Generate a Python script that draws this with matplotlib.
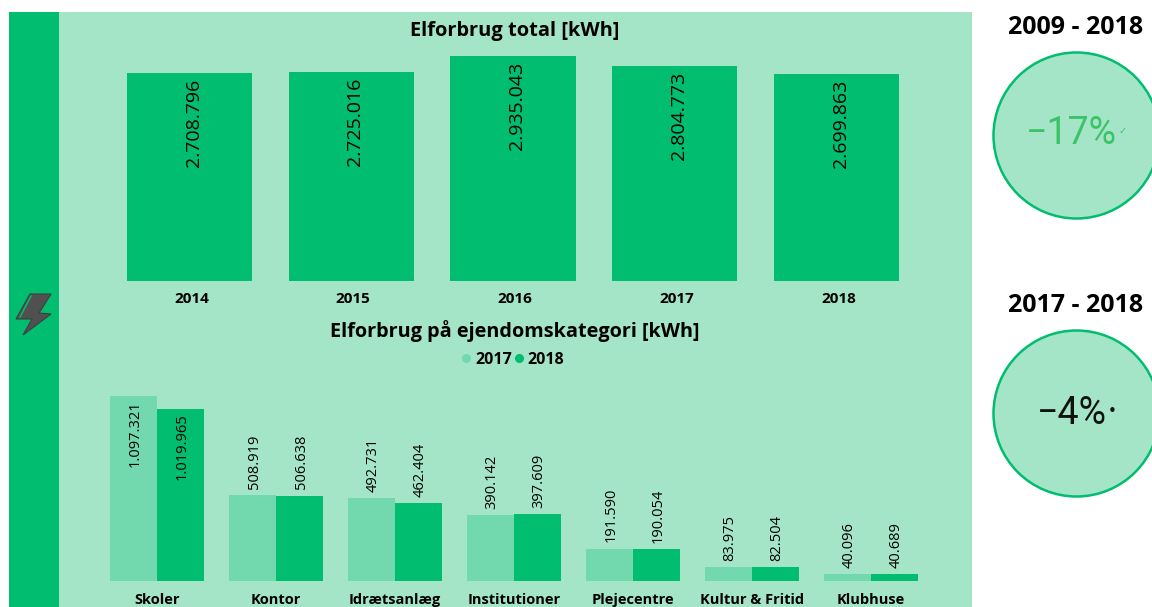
import matplotlib
matplotlib.use('Agg')
import matplotlib.pyplot as plt
from matplotlib.lines import Line2D
from matplotlib.patches import Circle, Polygon, Rectangle
from matplotlib.transforms import ScaledTranslation

years = ['2014', '2015', '2016', '2017', '2018']
total_kwh = [2708796, 2725016, 2935043, 2804773, 2699863]

categories = ['Skoler', 'Kontor', 'Idrætsanlæg', 'Institutioner', 'Plejecentre', 'Kultur & Fritid', 'Klubhuse']
kwh_2017 = [1097321, 508919, 492731, 390142, 191590, 83975, 40096]
kwh_2018 = [1019965, 506638, 462404, 397609, 190054, 82504, 40689]

GREEN = '#00BD6F'
LIGHT = '#72D9AE'
PANEL = '#A5E5C7'
W, H = 1152, 607

plt.rcParams['font.family'] = ['Open Sans', 'DejaVu Sans']


def dotted(v):
    return f'{v:,}'.replace(',', '.')


def px_axes(fig, left, top, right, bottom):
    return fig.add_axes([left / W, 1 - bottom / H, (right - left) / W, (bottom - top) / H])


def clean(ax):
    ax.patch.set_alpha(0)
    for s in ax.spines.values():
        s.set_visible(False)
    ax.set_yticks([])
    ax.tick_params(axis='x', length=0)


fig = plt.figure(figsize=(W / 100, H / 100), dpi=100, facecolor='white')

# background in pixel coordinates
bg = fig.add_axes([0, 0, 1, 1])
bg.set_xlim(0, W)
bg.set_ylim(H, 0)
bg.axis('off')
bg.add_patch(Rectangle((9, 12), 50, H - 12, color=GREEN, lw=0))
bg.add_patch(Rectangle((59, 12), 913, H - 12, color=PANEL, lw=0))

# lightning icon
bg.add_patch(Polygon([(30, 294), (51, 294), (39, 313), (51, 314), (23, 335), (32, 319), (16, 319)],
                     closed=True, fc='#505050', ec='#3f3f3f', lw=0.8))
bg.add_line(Line2D([31, 20], [296, 317], color=GREEN, lw=1.1))

bg.text(515, 31, 'Elforbrug total [kWh]', ha='center', va='center', fontsize=14.4, fontweight='bold')
bg.text(515, 331, 'Elforbrug på ejendomskategori [kWh]', ha='center', va='center', fontsize=14.3, fontweight='bold')

# right side KPI circles
bg.text(1076, 28, '2009 - 2018', ha='center', va='center', fontsize=18, fontweight='bold')
bg.text(1076, 306, '2017 - 2018', ha='center', va='center', fontsize=18, fontweight='bold')
bg.add_patch(Circle((1076.5, 135.5), 83, fc=PANEL, ec=GREEN, lw=1.8))
bg.add_patch(Circle((1076.5, 413.5), 83, fc=PANEL, ec=GREEN, lw=1.8))
bg.text(1117, 134, '−17%', ha='right', va='center', fontsize=27, color='#3CC36A',
        family=['Roboto', 'DejaVu Sans'], fontweight='normal')
bg.text(1123, 131, '✓', ha='center', va='center', fontsize=7, color='#3CC36A', family='DejaVu Sans',
        fontweight='bold')
bg.text(1107, 413, '−4%', ha='right', va='center', fontsize=27, color='#111111',
        family=['Roboto', 'DejaVu Sans'], fontweight='normal')
bg.text(1112, 411, '•', ha='center', va='center', fontsize=11, color='#111111', family='DejaVu Sans')

# total consumption per year
ax1 = px_axes(fig, 108.6, 56, 917.4, 281)
clean(ax1)
ax1.bar(years, total_kwh, width=0.773, color=GREEN)
ax1.set_xlim(-0.5, 4.5)
ax1.set_ylim(0, 2935043)
ax1.tick_params(axis='x', pad=8, labelsize=11)
shift = ScaledTranslation(2 / 100, 0, fig.dpi_scale_trans)
for lab in ax1.get_xticklabels():
    lab.set_fontweight('bold')
    lab.set_transform(lab.get_transform() + shift)
for i, v in enumerate(total_kwh):
    ax1.annotate(dotted(v), (i, v), xytext=(3, -4), textcoords='offset points', rotation=90,
                 ha='center', va='top', fontsize=14, clip_on=False)

# consumption per property category
ax2 = px_axes(fig, 97.5, 396, 930.5, 581)
clean(ax2)
bar_w = 47 / 119
xs = range(len(categories))
ax2.bar([x - bar_w / 2 for x in xs], kwh_2017, width=bar_w, color=LIGHT)
ax2.bar([x + bar_w / 2 for x in xs], kwh_2018, width=bar_w, color=GREEN)
ax2.set_xlim(-0.5, 6.5)
ax2.set_ylim(0, 1097321)
ax2.set_xticks(list(xs))
ax2.set_xticklabels(categories, fontweight='bold', fontsize=10.5)
ax2.tick_params(axis='x', pad=8.5)
for x in xs:
    for off, v in ((-bar_w / 2, kwh_2017[x]), (bar_w / 2, kwh_2018[x])):
        inside = v > 600000
        ax2.annotate(dotted(v), (x + off, v), xytext=(1.2, -3 if inside else 4.5), textcoords='offset points',
                     rotation=90, ha='center', va='top' if inside else 'bottom', fontsize=10.5, clip_on=False)

handles = [Line2D([], [], ls='', marker='o', ms=5.5, color=LIGHT, label='2017'),
           Line2D([], [], ls='', marker='o', ms=5.5, color=GREEN, label='2018')]
fig.legend(handles=handles, loc='center', bbox_to_anchor=(513 / W, 1 - 360 / H), ncol=2, frameon=False,
           handlelength=0.6, handletextpad=0.25, columnspacing=0.15, borderpad=0,
           prop={'weight': 'bold', 'size': 11.5})

fig.savefig('out.png', dpi=100)
plt.close()
